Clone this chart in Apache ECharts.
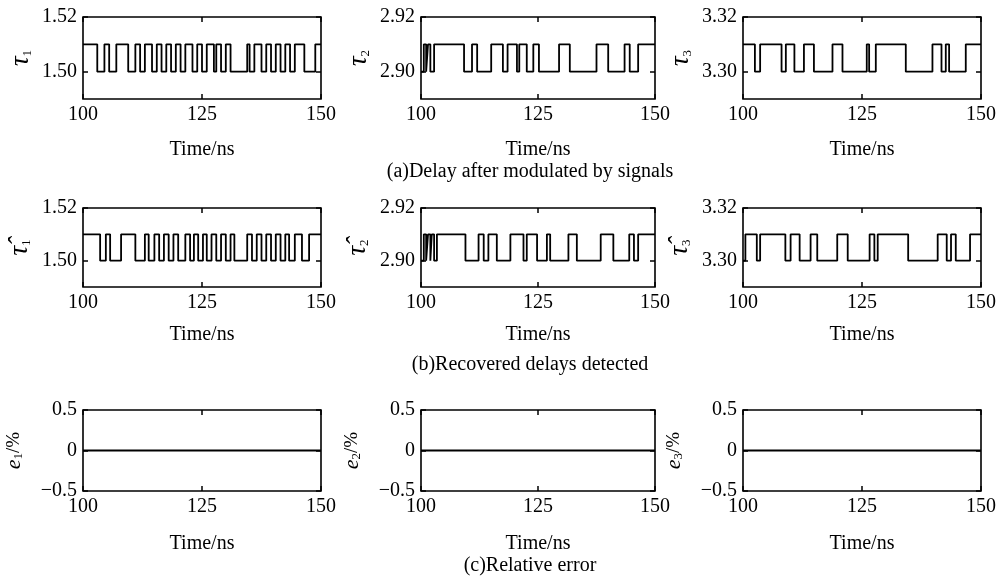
<!DOCTYPE html>
<html>
<head>
<meta charset="utf-8">
<script src="https://cdn.jsdelivr.net/npm/echarts@6/dist/echarts.min.js"></script>
<style>
  html, body { margin: 0; background: #fff; }
  #chart { width: 1000px; height: 577px; }
</style>
</head>
<body>
<div id="chart"></div>
<script>
// --- data (time in ns, delay levels) ---
const tau1Times = [100, 103, 104.5, 105.5, 107, 109.5, 111, 112, 113, 114.5, 115.5, 116.5, 117.5, 118.5, 119.5, 120.5, 121.5, 123, 124, 125, 126, 127.5, 128, 129, 130, 131, 134.5, 135, 136, 137.5, 138.5, 139.5, 140.5, 141.5, 142.5, 143.5, 144.5, 146.5, 148.8, 150];
const tau1Vals = [1.51, 1.50, 1.51, 1.50, 1.51, 1.50, 1.51, 1.50, 1.51, 1.50, 1.51, 1.50, 1.51, 1.50, 1.51, 1.50, 1.51, 1.50, 1.51, 1.50, 1.51, 1.50, 1.51, 1.50, 1.51, 1.50, 1.51, 1.50, 1.51, 1.50, 1.51, 1.50, 1.51, 1.50, 1.51, 1.50, 1.51, 1.50, 1.51, 1.51];

const tau2Times = [100, 100.6, 101.1, 101.5, 102, 102.8, 109.2, 110.9, 112, 115, 117.5, 118.5, 120.5, 121, 122.6, 124, 125.2, 129.5, 131.8, 137.5, 140, 143.5, 144.6, 146.4, 150];
const tau2Vals = [2.90, 2.91, 2.90, 2.91, 2.90, 2.91, 2.90, 2.91, 2.90, 2.91, 2.90, 2.91, 2.90, 2.91, 2.90, 2.91, 2.90, 2.91, 2.90, 2.91, 2.90, 2.91, 2.90, 2.91, 2.91];

const tau3Times = [100, 102.5, 103.6, 108.1, 109, 110.8, 112.8, 114.9, 118.8, 120.9, 126, 126.5, 127.9, 134.2, 139.8, 141.7, 142.6, 143.3, 146.8, 150];
const tau3Vals = [3.31, 3.30, 3.31, 3.30, 3.31, 3.30, 3.31, 3.30, 3.31, 3.30, 3.31, 3.30, 3.31, 3.30, 3.31, 3.30, 3.31, 3.30, 3.31, 3.31];

const hat1Times = [100, 103.6, 104.8, 105.7, 108, 111, 113, 113.8, 115, 116, 117, 118, 119, 120, 121.5, 122.5, 123.3, 124.2, 125.2, 126, 127, 128, 129, 130, 131, 131.8, 134.5, 135.5, 136.5, 137.5, 138.5, 139.5, 140.5, 141.5, 142.5, 143.3, 144.5, 146, 147.5, 150];
const hat1Vals = [1.51, 1.50, 1.51, 1.50, 1.51, 1.50, 1.51, 1.50, 1.51, 1.50, 1.51, 1.50, 1.51, 1.50, 1.51, 1.50, 1.51, 1.50, 1.51, 1.50, 1.51, 1.50, 1.51, 1.50, 1.51, 1.50, 1.51, 1.50, 1.51, 1.50, 1.51, 1.50, 1.51, 1.50, 1.51, 1.50, 1.51, 1.50, 1.51, 1.51];

const hat2Times = [100, 100.6, 101.1, 101.5, 102, 102.3, 102.8, 103.4, 109.5, 112.3, 113.4, 114.4, 116.2, 119.1, 121.9, 122.6, 124.8, 126.9, 127.6, 131.5, 133.3, 138.4, 141.1, 144.5, 145.5, 146.4, 150];
const hat2Vals = [2.90, 2.91, 2.90, 2.91, 2.90, 2.91, 2.90, 2.91, 2.90, 2.91, 2.90, 2.91, 2.90, 2.91, 2.90, 2.91, 2.90, 2.91, 2.90, 2.91, 2.90, 2.91, 2.90, 2.91, 2.90, 2.91, 2.91];

const hat3Times = [100, 100.5, 102.9, 103.6, 108.9, 110, 111.9, 114.2, 115.6, 119.8, 122, 126.6, 127.6, 128.3, 134.7, 140.9, 142.8, 143.7, 144.7, 147.7, 150];
const hat3Vals = [3.30, 3.31, 3.30, 3.31, 3.30, 3.31, 3.30, 3.31, 3.30, 3.31, 3.30, 3.31, 3.30, 3.31, 3.30, 3.31, 3.30, 3.31, 3.30, 3.31, 3.31];

const errTimes = [100, 150];
const err1Vals = [0, 0];
const err2Vals = [0, 0];
const err3Vals = [0, 0];

const yRanges = [[1.49, 1.52], [2.89, 2.92], [3.29, 3.32]];
const yLabelValues = [[1.50, 1.52], [2.90, 2.92], [3.30, 3.32]];
const errRange = [-0.5, 0.5];
const errLabelValues = [-0.5, 0, 0.5];

const captions = [
  "(a)Delay after modulated by signals",
  "(b)Recovered delays detected",
  "(c)Relative error",
];

const panels = [
  [tau1Times, tau1Vals], [tau2Times, tau2Vals], [tau3Times, tau3Vals],
  [hat1Times, hat1Vals], [hat2Times, hat2Vals], [hat3Times, hat3Vals],
  [errTimes, err1Vals], [errTimes, err2Vals], [errTimes, err3Vals],
];

// --- layout ---
const FONT = "Liberation Serif";
const gridLeft = [83, 421, 743];
const gridWidth = [238, 234, 238];
const gridTop = [17, 208, 410];
const gridHeight = [82, 79, 81];
const nameGaps = [49, 50, 58];
const xNameGaps = [41, 38, 43];

const richStyle = {
  t: { fontFamily: FONT, fontStyle: "italic", fontSize: 27, color: "#000" },
  e: { fontFamily: FONT, fontStyle: "italic", fontSize: 22, color: "#000" },
  s: { fontFamily: FONT, fontSize: 13, color: "#000", verticalAlign: "bottom" },
  p: { fontFamily: FONT, fontSize: 19, color: "#000" },
};

function yName(row, col) {
  const n = col + 1;
  if (row === 0) return "{t|τ}{s|" + n + "}";
  if (row === 1) return "{t|τ\u0302}{s|" + n + "}";
  return "{e|e}{s|" + n + "}{p|/%}";
}

const tickStyle = { inside: true, length: 5, lineStyle: { color: "#000", width: 1.5 } };
const labelFont = { color: "#000", fontFamily: FONT, fontSize: 20 };

const grids = [], xAxes = [], yAxes = [], series = [];

for (let row = 0; row < 3; row++) {
  for (let col = 0; col < 3; col++) {
    const i = row * 3 + col;
    grids.push({
      left: gridLeft[col], top: gridTop[row],
      width: gridWidth[col], height: gridHeight[row],
      show: true, borderColor: "#000", borderWidth: 1.6,
    });

    const isErr = row === 2;
    const yMin = isErr ? errRange[0] : yRanges[col][0];
    const yMax = isErr ? errRange[1] : yRanges[col][1];
    const yVals = isErr ? errLabelValues : yLabelValues[col];

    // bottom x axis with labels
    xAxes.push({
      gridIndex: i, type: "value", position: "bottom", min: 100, max: 150, interval: 25,
      axisLine: { show: false, onZero: false },
      axisTick: tickStyle,
      splitLine: { show: false },
      axisLabel: Object.assign({ margin: 6, showMinLabel: true, showMaxLabel: true }, labelFont),
      name: "Time/ns", nameLocation: "middle", nameGap: xNameGaps[row],
      nameTextStyle: labelFont,
    });
    // mirrored top axis, ticks only
    xAxes.push({
      gridIndex: i, type: "value", position: "top", min: 100, max: 150, interval: 25,
      axisLine: { show: false, onZero: false }, axisTick: tickStyle,
      axisLabel: { show: false }, splitLine: { show: false },
    });

    yAxes.push({
      gridIndex: i, type: "value", position: "left", min: yMin, max: yMax,
      axisLine: { show: false, onZero: false },
      axisTick: Object.assign({ customValues: yVals }, tickStyle),
      splitLine: { show: false },
      axisLabel: Object.assign({
        margin: 6,
        customValues: yVals,
        formatter: function (v) {
          if (isErr) return v === 0 ? "0" : (v < 0 ? "\u2212" + Math.abs(v) : String(v));
          return v.toFixed(2);
        },
      }, labelFont),
      name: yName(row, col), nameLocation: "middle", nameRotate: 90,
      nameGap: nameGaps[row],
      nameTextStyle: { rich: richStyle },
    });
    yAxes.push({
      gridIndex: i, type: "value", position: "right", min: yMin, max: yMax,
      axisLine: { show: false, onZero: false },
      axisTick: Object.assign({ customValues: yVals }, tickStyle),
      axisLabel: { show: false }, splitLine: { show: false },
    });

    const [times, vals] = panels[i];
    series.push({
      type: "line", step: "end", symbol: "none",
      xAxisIndex: i * 2, yAxisIndex: i * 2,
      lineStyle: { color: "#000", width: 1.8 },
      data: times.map((t, k) => [t, vals[k]]),
    });
  }
}

const captionY = [172, 365, 566];
const graphics = captions.map((text, r) => ({
  type: "text",
  x: 530, y: captionY[r],
  style: {
    text: text, fill: "#000",
    font: '20px "Liberation Serif"',
    textAlign: "center", textVerticalAlign: "middle",
  },
}));

const myChart = echarts.init(document.getElementById("chart"));
myChart.setOption({
  animation: false,
  backgroundColor: "#fff",
  grid: grids,
  xAxis: xAxes,
  yAxis: yAxes,
  series: series,
  graphic: graphics,
});
</script>
</body>
</html>
